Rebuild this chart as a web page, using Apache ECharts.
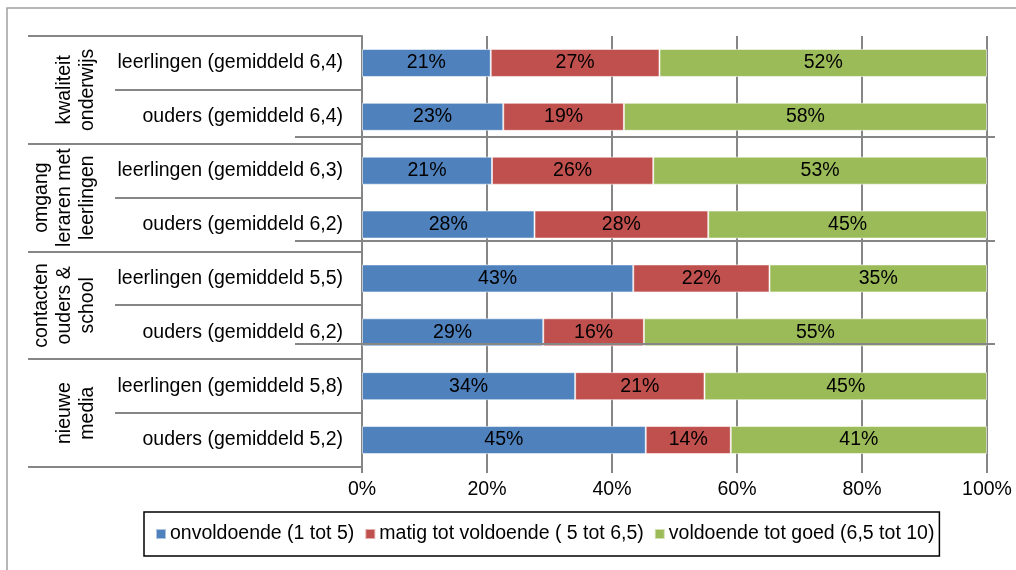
<!DOCTYPE html>
<html>
<head>
<meta charset="utf-8">
<script src="https://cdn.jsdelivr.net/npm/echarts@6/dist/echarts.min.js"></script>
<style>
html,body{margin:0;padding:0;background:#fff;}
#c{width:1016px;height:570px;}
</style>
</head>
<body>
<div id="c"></div>
<script>
const categories = [
  'leerlingen (gemiddeld 6,4)', 'ouders (gemiddeld 6,4)',
  'leerlingen (gemiddeld 6,3)', 'ouders (gemiddeld 6,2)',
  'leerlingen (gemiddeld 5,5)', 'ouders (gemiddeld 6,2)',
  'leerlingen (gemiddeld 5,8)', 'ouders (gemiddeld 5,2)'
];
const groups = ['kwaliteit\nonderwijs', 'omgang\nleraren met\nleerlingen', 'contacten\nouders &\nschool', 'nieuwe\nmedia'];
const seriesNames = ['onvoldoende (1 tot 5)', 'matig tot voldoende ( 5 tot 6,5)', 'voldoende tot goed (6,5 tot 10)'];
const onvoldoende = [20.6, 22.6, 20.8, 27.6, 43.4, 29.0, 34.1, 45.4];
const matig = [27.0, 19.3, 25.8, 27.8, 21.8, 16.1, 20.7, 13.6];
const voldoende = [52.4, 58.1, 53.4, 44.6, 34.8, 54.9, 45.2, 41.0];
const xMin = 0, xMax = 100, xStep = 20;

const FONT = "'Liberation Sans', Arial, sans-serif";
const FS = 19.5;
const GRAY = '#868686';
const colors = ['#4F81BD', '#C0504D', '#9BBB59'];

const chart = echarts.init(document.getElementById('c'), null, {renderer: 'canvas'});

function mkSeries(name, data, color) {
  return {
    name: name, type: 'bar', stack: 'total', data: data,
    barCategoryGap: '48%',
    itemStyle: {color: color, borderColor: 'rgba(255,255,255,0.55)', borderWidth: 1},
    label: {
      show: true, position: 'inside', color: '#000', fontSize: FS, fontFamily: FONT,
      formatter: p => Math.round(p.value) + '%'
    },
    emphasis: {disabled: true},
    animation: false
  };
}

const option = {
  animation: false,
  textStyle: {fontFamily: FONT},
  grid: {left: 362, right: 29, top: 36, bottom: 103, containLabel: false},
  xAxis: {
    type: 'value', min: xMin, max: xMax, interval: xStep,
    axisLabel: {formatter: '{value}%', color: '#000', fontSize: FS, fontFamily: FONT, margin: 13},
    axisLine: {show: false},
    axisTick: {show: true, length: 6, lineStyle: {color: GRAY, width: 2}},
    splitLine: {show: true, lineStyle: {color: GRAY, width: 2}}
  },
  yAxis: {
    type: 'category', inverse: true, data: categories,
    axisLabel: {color: '#000', fontSize: FS, fontFamily: FONT, margin: 19},
    axisLine: {show: true, lineStyle: {color: GRAY, width: 2}},
    axisTick: {show: false},
    splitLine: {show: false}
  },
  legend: {
    left: 144, top: 512,
    padding: [12, 5, 12, 11],
    itemGap: 10, itemWidth: 10, itemHeight: 10,
    icon: 'rect',
    borderColor: '#000', borderWidth: 1.5,
    textStyle: {color: '#000', fontSize: FS, fontFamily: FONT, padding: [0, 0, 0, -1]},
    data: seriesNames
  },
  series: [
    mkSeries(seriesNames[0], onvoldoende, colors[0]),
    mkSeries(seriesNames[1], matig, colors[1]),
    mkSeries(seriesNames[2], voldoende, colors[2])
  ]
};
chart.setOption(option);

// decorations computed from the category scale
const c0 = chart.convertToPixel({yAxisIndex: 0}, 0);
const c1 = chart.convertToPixel({yAxisIndex: 0}, 1);
const band = c1 - c0;
const xLeft = chart.convertToPixel({xAxisIndex: 0}, xMin);
const xRight = chart.convertToPixel({xAxisIndex: 0}, xMax);
const g = [];
function line(x1, y1, x2, y2, z) {
  g.push({type: 'line', shape: {x1: x1, y1: y1, x2: x2, y2: y2}, style: {stroke: GRAY, lineWidth: 2}, z: z || 5, silent: true});
}
// outer frame
g.push({type: 'rect', shape: {x: 7, y: 8, width: 1030, height: 600}, style: {fill: null, stroke: '#A0A0A0', lineWidth: 1.5}, z: 1, silent: true});
for (let k = 0; k <= groups.length; k++) {
  const yb = Math.round(c0 - band / 2 + k * 2 * band);
  line(28, yb, xLeft, yb);
}
for (let k = 0; k < groups.length; k++) {
  const yi = Math.round(c0 + band / 2 + k * 2 * band);
  line(115, yi, xLeft, yi);
  const yc = (chart.convertToPixel({yAxisIndex: 0}, 2 * k) + chart.convertToPixel({yAxisIndex: 0}, 2 * k + 1)) / 2;
  g.push({
    type: 'text', x: 99, y: yc, rotation: Math.PI / 2, silent: true, z: 5,
    style: {text: groups[k], fill: '#000', fontSize: FS, fontFamily: FONT, align: 'center', verticalAlign: 'bottom', lineHeight: 23}
  });
}
// extra horizontal rules crossing the plot between groups
const gridH = band * categories.length;
[0.2343, 0.4756, 0.7146].forEach(f => {
  const y = Math.round(c0 - band / 2 + f * gridH);
  line(295, y, xRight + 8, y, 20);
});
chart.setOption({graphic: g});
</script>
</body>
</html>
